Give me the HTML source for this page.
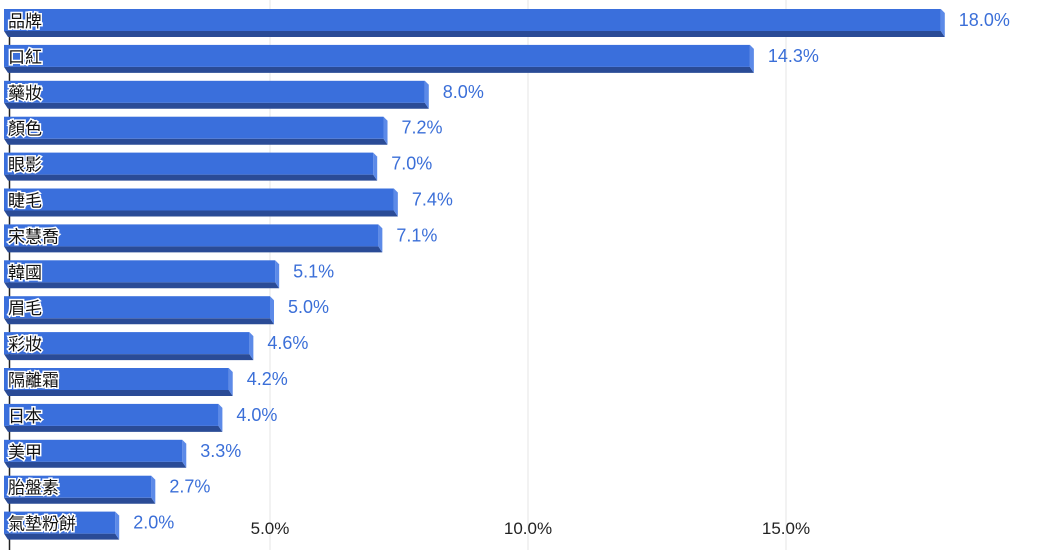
<!DOCTYPE html>
<html><head><meta charset="utf-8"><style>
body{margin:0;background:#fff;}
svg{display:block;font-family:"Liberation Sans","Noto Sans CJK TC",sans-serif;}
</style></head><body>
<svg id="c" width="1048" height="550" viewBox="0 0 1048 550"></svg>
<script>
const categories=["品牌","口紅","藥妝","顏色","眼影","睫毛","宋慧喬","韓國","眉毛","彩妝","隔離霜","日本","美甲","胎盤素","氣墊粉餅"];
const values=[18.0,14.3,8.0,7.2,7.0,7.4,7.1,5.1,5.0,4.6,4.2,4.0,3.3,2.7,2.0];
const tickValues=[5,10,15];
const tickLabels=["5.0%","10.0%","15.0%"];
const svg=document.getElementById('c');
const NS="http://www.w3.org/2000/svg";
const x0=12, pxPer=51.6;
const xs=v=>x0+v*pxPer;
const ys=i=>9+i*35.9;
function mk(t,a,p){const e=document.createElementNS(NS,t);for(const k in a)e.setAttribute(k,a[k]);(p||svg).appendChild(e);return e;}
tickValues.forEach((v,i)=>{
  const g=mk('line',{x1:xs(v),x2:xs(v),y1:0,y2:550,stroke:'#e6e6e6','stroke-width':1});
  
  
  const t=mk('text',{x:xs(v),y:534,'font-size':17,fill:'#222','text-anchor':'middle'});
  t.textContent=tickLabels[i];
  
  
});
const ax=mk('line',{x1:9.5,x2:9.5,y1:20,y2:550,stroke:'#222','stroke-width':1.5});


categories.forEach((c,i)=>{
  const t=ys(i), x1=xs(values[i]), L=4;
  const g=mk('g',{});
  
  
  mk('polygon',{points:`${L},${t+22} ${x1},${t+22} ${x1+4},${t+28} ${L+4},${t+28}`,fill:'#2a4b96'},g);
  mk('polygon',{points:`${x1},${t} ${x1+4},${t+4} ${x1+4},${t+28} ${x1},${t+22}`,fill:'#5c8ae8'},g);
  mk('rect',{x:L,y:t,width:x1-L,height:22,fill:'#3a6fdc'},g);
  const lb=mk('text',{x:L+4,y:t+18,'font-size':17,fill:'#111',stroke:'#fff','stroke-width':3,'paint-order':'stroke'},g);
  lb.textContent=c;
  
  
  const vl=mk('text',{x:x1+18,y:t+17,'font-size':18,fill:'#3b6fd8'},g);
  vl.textContent=values[i].toFixed(1)+'%';
  
  
});
</script>
</body></html>
